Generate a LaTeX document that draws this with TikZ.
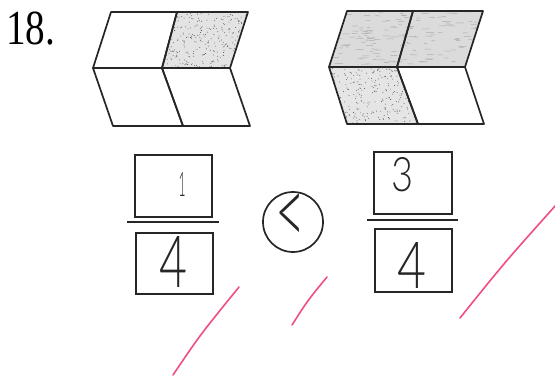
\documentclass[tikz,border=0pt]{standalone}
\usepackage{fontspec}
\setmainfont{Liberation Serif}
\IfFontExistsTF{Lato Light}{\newfontfamily\handfont{Lato Light}}{\newfontfamily\handfont{Latin Modern Sans}}
\definecolor{pinkmark}{RGB}{238,78,128}
\begin{document}
\begin{tikzpicture}[x=1pt,y=-1pt,
  cell/.style={draw=black!85,line width=1.7pt,line join=round},
  numbox/.style={draw=black!85,line width=1.7pt,inner sep=0pt},
  barline/.style={draw=black!85,line width=1.7pt},
  hand/.style={inner sep=0pt,text=black!85},
  tick/.style={draw=pinkmark,line width=1.6pt,line cap=round}]
\useasboundingbox (0,0) rectangle (555,377);
\pgfmathsetseed{18}
% title
\node[anchor=base west,inner sep=0pt,font=\fontsize{49}{49}\selectfont] (num) at (6,45) {\scalebox{0.8}[1]{18.}};
% left figure
\coordinate (a1) at (111,12); \coordinate (a2) at (177,12); \coordinate (a3) at (248,12);
\coordinate (b1) at (93,68); \coordinate (b2) at (162,68); \coordinate (b3) at (230,68);
\coordinate (c1) at (113,126); \coordinate (c2) at (183,126); \coordinate (c3) at (250,126);
% speckled cell (left top right)
\begin{scope}
\clip (a2) -- (a3) -- (b3) -- (b2) -- cycle;
\fill[black!11] (a2) -- (a3) -- (b3) -- (b2) -- cycle;
\foreach \i in {1,...,320}{\fill[black!70] ({160+rnd*90},{12+rnd*56}) circle (0.45pt);}
\end{scope}
\path[cell] (a1) -- (a2) -- (b2) -- (b1) -- cycle;
\path[cell] (a2) -- (a3) -- (b3) -- (b2) -- cycle;
\path[cell] (b1) -- (b2) -- (c2) -- (c1) -- cycle;
\path[cell] (b2) -- (b3) -- (c3) -- (c2) -- cycle;
% right figure
\coordinate (d1) at (347,11); \coordinate (d2) at (413,11); \coordinate (d3) at (483,11);
\coordinate (e1) at (329,67); \coordinate (e2) at (397,67); \coordinate (e3) at (465,67);
\coordinate (f1) at (347,124); \coordinate (f2) at (418,124); \coordinate (f3) at (484,124);
\begin{scope}
\clip (d1) -- (d3) -- (e3) -- (e1) -- cycle;
\fill[black!14] (d1) -- (d3) -- (e3) -- (e1) -- cycle;
\foreach \i in {1,...,160}{\draw[black!32,line width=0.5pt] ({325+rnd*160},{11+rnd*56}) -- ++({3+rnd*5},{rnd*0.6-0.3});}
\end{scope}
\begin{scope}
\clip (e1) -- (e2) -- (f2) -- (f1) -- cycle;
\fill[black!10] (e1) -- (e2) -- (f2) -- (f1) -- cycle;
\foreach \i in {1,...,320}{\fill[black!70] ({328+rnd*92},{67+rnd*57}) circle (0.45pt);}
\end{scope}
\path[cell] (d1) -- (d2) -- (e2) -- (e1) -- cycle;
\path[cell] (d2) -- (d3) -- (e3) -- (e2) -- cycle;
\path[cell] (e1) -- (e2) -- (f2) -- (f1) -- cycle;
\path[cell] (e2) -- (e3) -- (f3) -- (f2) -- cycle;
% fraction 1/4
\node[numbox,minimum width=77pt,minimum height=62pt] (n1) at (173.5,186) {};
\node[numbox,minimum width=77pt,minimum height=61pt] (d1b) at (174.5,263.5) {};
\coordinate (l1a) at (127,222); \coordinate (l1b) at (219,222);
\draw[barline] (l1a) -- (l1b);
\node[hand] (t1) at (182,184) {\resizebox{7pt}{24pt}{\handfont 1}};
\node[hand] (t4a) at (174,262) {\resizebox{28pt}{51pt}{\handfont 4}};
% comparison
\node[draw=black!85,line width=1.7pt,circle,minimum size=60pt,inner sep=0pt] (cmp) at (293,222) {};
\node[hand] (lt) at (291,219) {\resizebox{30pt}{52pt}{\handfont <}};
% fraction 3/4
\node[numbox,minimum width=78pt,minimum height=62pt] (n2) at (413,183) {};
\node[numbox,minimum width=77pt,minimum height=63pt] (d2b) at (413.5,260.5) {};
\coordinate (l2a) at (367,220); \coordinate (l2b) at (458,220);
\draw[barline] (l2a) -- (l2b);
\node[hand] (t3) at (402,175) {\resizebox{22pt}{34pt}{\handfont 3}};
\node[hand] (t4b) at (412,265) {\resizebox{29pt}{46pt}{\handfont 4}};
% pink check marks
\coordinate (p1a) at (173,375); \coordinate (p1b) at (239,287);
\coordinate (p2a) at (292,325); \coordinate (p2b) at (327,277);
\coordinate (p3a) at (460,318); \coordinate (p3b) at (556,205);
\draw[tick] (p1a) .. controls (200,335) .. (p1b);
\draw[tick] (p2a) .. controls (308,300) .. (p2b);
\draw[tick] (p3a) .. controls (505,262) .. (p3b);
\end{tikzpicture}
\end{document}
